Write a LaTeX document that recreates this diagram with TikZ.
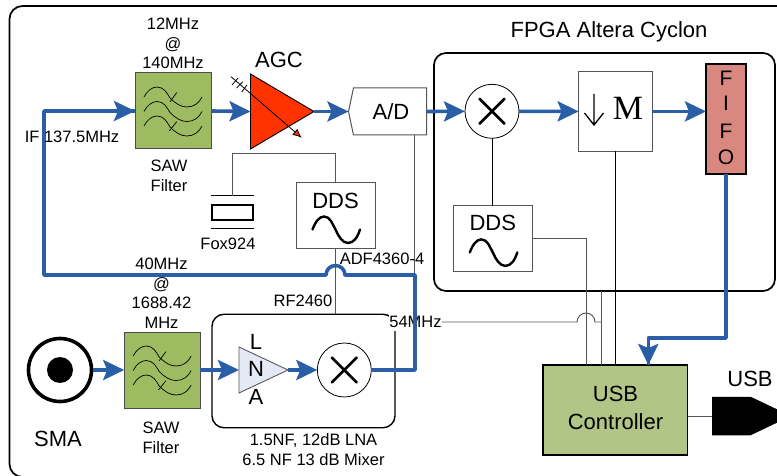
\documentclass[tikz,border=0pt]{standalone}
\usepackage{fontspec}
\setmainfont{Liberation Sans}
\newfontfamily\serifM{Liberation Serif}
\usetikzlibrary{arrows.meta,shapes.geometric,shapes.symbols}
\definecolor{flowblue}{HTML}{2A5FA8}
\definecolor{sawgreen}{HTML}{9DBB61}
\definecolor{usbgreen}{HTML}{B1C587}
\definecolor{fifored}{HTML}{D98880}
\definecolor{agcred}{HTML}{FF3300}
\definecolor{lnablue}{HTML}{E4EAF5}
\definecolor{wire}{HTML}{555555}
\newcommand{\fsz}[1]{\fontsize{#1}{#1}\selectfont}
\tikzset{
  x=1pt,y=-1pt,
  blk/.style={draw=wire,line width=1pt,inner sep=0pt,outer sep=0pt,minimum width=#1},
  sawbox/.style={draw=black!70,line width=1pt,fill=sawgreen,inner sep=0pt,outer sep=0pt,minimum size=76pt},
  mixer/.style={circle,draw=black,line width=0.8pt,fill=white,inner sep=0pt,outer sep=0pt,minimum size=54pt},
  group/.style={draw=black,rounded corners=12pt,line width=1.7pt,inner sep=0pt,outer sep=0pt},
  wireline/.style={draw=wire,line width=0.9pt},
  blackline/.style={draw=black,line width=0.8pt},
  flow/.style={draw=flowblue,line width=3.6pt},
  flowarrow/.style={flow,-{Stealth[length=21pt,width=20pt,inset=4pt]}},
  small/.style={inner sep=0pt,font=\fontsize{16.5}{19.5}\selectfont,align=center},
  big/.style={inner sep=0pt,font=\fontsize{22}{28}\selectfont,align=center},
  sawfilter/.pic={
    \foreach \d in {0,14.5,29}{
      \draw[black,line width=0.7pt] (9,24+\d) .. controls (12,18+\d) and (17,14+\d) .. (22,14+\d)
        .. controls (29,14+\d) and (32,20+\d) .. (35,25+\d)
        .. controls (41,31+\d) and (46,34+\d) .. (52,34+\d)
        .. controls (59,34+\d) and (64,30+\d) .. (67,24+\d);
    }
    \draw[black,line width=0.7pt] (35,28.7) -- (41.7,19.7) (34.3,58) -- (41.7,48.7);
  },
  sine/.pic={
    \draw[black,line width=2.4pt,line cap=round] (-23,14) .. controls (-20,6) and (-16,1) .. (-11.5,1)
      .. controls (-5,1) and (-3,9) .. (0,14) .. controls (3,21) and (7,27.5) .. (12.5,27.5)
      .. controls (18,27.5) and (22,22) .. (24.5,14);
  },
  cross/.pic={
    \draw[black,line width=2.6pt,line cap=round] (-12.5,-12.5) -- (12.5,12.5) (-12.5,12.5) -- (12.5,-12.5);
  }
}
\begin{document}
\begin{tikzpicture}
\useasboundingbox (0,0) rectangle (777,476);
\clip (0,0) rectangle (777,476);
\fill[white] (0,0) rectangle (777,476);

% outer frame
\draw[black,line width=1.7pt,rounded corners=13pt] (800,6) -- (9.5,6) -- (9.5,477) -- (800,477);

% blocks
\node[sawbox] (saw1) at (173,111) {};
\pic at (135,73) {sawfilter};
\node[isosceles triangle,isosceles triangle stretches,shape border rotate=0,draw=black,line width=0.9pt,fill=agcred,
  minimum width=75pt,minimum height=63.5pt,inner sep=0pt,outer sep=0pt,anchor=lower side] (agc) at (250.5,111.5) {};
\node[signal,signal to=west,signal from=nowhere,signal pointer angle=156,draw=wire,line width=1pt,fill=white,
  minimum width=78pt,minimum height=47pt,inner sep=0pt,outer sep=0pt,anchor=east] (ad) at (426.5,111.5) {};
\node[big] at (391,111.5) {A/D};
\node[group,minimum width=341pt,minimum height=238pt] (fpga) at (604.5,172) {};
\node[mixer] (mixa) at (492,111.3) {};
\pic at (492,111.3) {cross};
\node[blk=73.5pt,minimum height=79.5pt,fill=white] (mbox) at (615.4,111.4) {};
\draw[black,line width=1.3pt] (594,94) -- (594,125) (584.5,113) -- (594,125) -- (603.5,113);
\node[inner sep=0pt] at (628,108) {\serifM\fontsize{34}{34}\selectfont M};
\node[draw=black,line width=1.5pt,fill=fifored,inner sep=0pt,outer sep=0pt,minimum width=40pt,minimum height=110pt] (fifo) at (726,119) {};
\node[blk=78.5pt,minimum height=65.5pt,fill=white] (fdds) at (492.8,238.4) {};
\node[big] at (492.8,223) {DDS};
\pic at (492.8,238.4) {sine};
\node[blk=79pt,minimum height=65pt,fill=white] (dds) at (335.5,215.5) {};
\node[big] at (335.5,201) {DDS};
\pic at (335.5,215.5) {sine};
\node[draw=black,line width=1.2pt,inner sep=0pt,outer sep=0pt,minimum width=41pt,minimum height=15pt] (xtal) at (232.5,212.5) {};
\coordinate (xtop) at (232.5,195.7);
\coordinate (xbot) at (232.5,228.7);
\draw[black,line width=1.2pt] (211,195.7) -- (254,195.7) (211,228.7) -- (254,228.7);

\node[group,line width=1.4pt,minimum width=183pt,minimum height=113.5pt] (lnabox) at (303.5,371) {};
\node[draw=black!65,line width=0.9pt,isosceles triangle,isosceles triangle stretches,shape border rotate=0,fill=lnablue,
  minimum width=46pt,minimum height=49pt,inner sep=0pt,outer sep=0pt,anchor=lower side] (lna) at (239,370) {};
\node[big] at (256,342) {L};
\node[big] at (256,369) {N};
\node[big] at (256,397) {A};
\node[mixer] (mixb) at (344.3,370) {};
\pic at (344.3,370) {cross};

\node[circle,draw=black,line width=3.6pt,inner sep=0pt,outer sep=1.8pt,minimum size=63pt,fill=white] (sma) at (60,370) {};
\fill[black] (sma.center) circle[radius=13pt];
\node[sawbox] (saw2) at (162.2,370) {};
\pic at (124.2,332) {sawfilter};

\node[draw=black,line width=1.5pt,fill=usbgreen,inner sep=0pt,outer sep=0pt,minimum width=144.7pt,minimum height=89.7pt] (usb) at (615.3,410) {};
\node[signal,signal to=east,signal from=nowhere,signal pointer angle=51,fill=black,inner sep=0pt,outer sep=0pt,
  minimum width=79pt,minimum height=38.5pt,anchor=west] (plug) at (712,416) {};

% AGC control arrow
\draw[black,line width=0.8pt,-{Latex[length=9pt,width=8pt,fill=agcred]}] (231,76.7) -- (301.7,137.7);
\draw[black,line width=0.8pt] (232,85) -- (238,78) (236.7,88) -- (242.7,81.7) (241.7,92) -- (247,85);

% thin connectors
\draw[wireline] (xtop) -- (232.5,153.5) -- (335.5,153.5) -- (dds.north);
\draw[wireline] (dds.south) -- (dds.south |- lnabox.north);
\coordinate (adout) at (414.7,135);
\coordinate (adend) at (414.7,275);
\draw[wireline] (adout) -- (adend);
\draw[blackline] (mixa.south) -- (mixa.south |- fdds.north);
\coordinate (usba) at (586,365);
\coordinate (usbb) at (601.7,365);
\draw[wireline] (fdds.east) -| (usba);
\draw[wireline] (usbb |- fpga.south) -- (usbb);
\draw[blackline] (mbox.south) -- (mbox.south |- usb.north);
\draw[wireline] (usb.east |- plug.west) -- (plug.west);

% 54MHz label masks the module corner
\node[small,fill=white,inner xsep=0pt,inner ysep=1pt,minimum height=18pt] (mhz) at (415.5,322) {54MHz};
\draw[wireline] (mhz.east) -- (577,322) arc[start angle=180,end angle=0,radius=9pt] -- (usbb |- mhz.east);

% signal path
\coordinate (c1) at (44,111);
\coordinate (c2) at (44,275);
\coordinate (c3) at (415,275);
\coordinate (c4) at (415,370);
\draw[flow,line join=round] (mixb.east) -- (c4) -- (c3) -- (345,275) arc[start angle=0,end angle=180,radius=9.5pt] -- (c2) -- (c1) -- (saw1.west);
\draw[flowarrow] (c1) -- (saw1.west);
\draw[flowarrow] (saw1.east) -- (agc.lower side);
\draw[flowarrow] (agc.apex) -- (ad.west);
\draw[flowarrow] (ad.east) -- (mixa.west);
\draw[flowarrow] (mixa.east) -- (mbox.west);
\draw[flowarrow] (mbox.east) -- (mbox.east -| fifo.west);
\coordinate (turn) at (648.3,338);
\coordinate (usbin) at (648.3,365);
\draw[flow,line join=round] (fifo.south) |- (turn) -- (usbin);
\draw[flowarrow] (turn) -- (usbin);
\draw[flowarrow] (sma.east) -- (saw2.west);
\draw[flowarrow] (saw2.east) -- (lna.lower side);
\draw[flowarrow] (lna.apex) -- (mixb.west);

% labels
\node[small] at (173,43.5) {12MHz\\@\\140MHz};
\node[small] at (169,176) {SAW\\Filter};
\node[small] at (72,137) {IF 137.5MHz};
\node[small] at (228,244) {Fox924};
\node[small] at (161.5,293) {40MHz\\@\\1688.42\\MHz};
\node[small] at (303,301) {RF2460};
\node[small] at (382,258.5) {ADF4360-4};
\node[small] at (161,438) {SAW\\Filter};
\node[small] at (313.5,449.5) {1.5NF, 12dB LNA\\6.5 NF 13 dB Mixer};
\node[inner sep=0pt,font=\fsz{22}] at (279,60) {AGC};
\node[inner sep=0pt,font=\fsz{22}] at (609,32) {FPGA Altera Cyclon};
\node[inner sep=0pt,font=\fsz{22}] at (58,439) {SMA};
\node[inner sep=0pt,font=\fsz{22}] at (750,379) {USB};
\node[inner sep=0pt,font=\fsz{22}] at (615.5,394) {USB};
\node[inner sep=0pt,font=\fsz{22}] at (615.5,422) {Controller};
\node[inner sep=0pt,font=\fsz{21}] at (726,78) {F};
\node[inner sep=0pt,font=\fsz{21}] at (726,103) {I};
\node[inner sep=0pt,font=\fsz{21}] at (726,131) {F};
\node[inner sep=0pt,font=\fsz{21}] at (726,157) {O};
\end{tikzpicture}
\end{document}
